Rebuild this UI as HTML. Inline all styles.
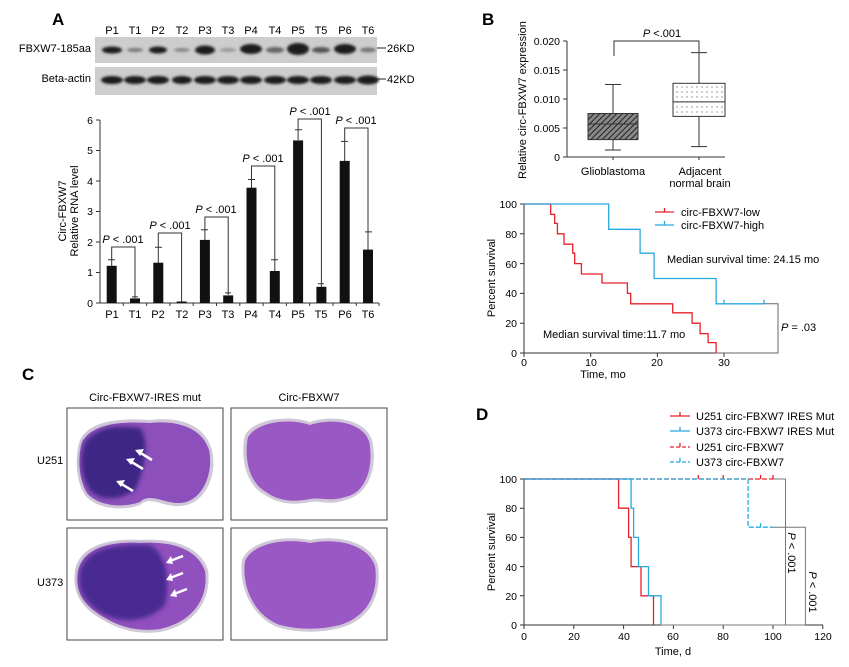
<!DOCTYPE html>
<html><head><meta charset="utf-8"><style>
html,body{margin:0;padding:0;background:#fff}
svg{display:block;font-family:"Liberation Sans",Arial,sans-serif}
</style></head><body>
<svg width="849" height="667" viewBox="0 0 849 667" xmlns="http://www.w3.org/2000/svg">
<defs>
<pattern id="hatch" width="4" height="4" patternUnits="userSpaceOnUse" patternTransform="rotate(45)"><rect width="4" height="4" fill="#888"/><line x1="0" y1="0" x2="0" y2="4" stroke="#222" stroke-width="2"/></pattern>
<pattern id="dots" width="5" height="5" patternUnits="userSpaceOnUse"><rect width="5" height="5" fill="#fff"/><circle cx="2" cy="2" r="0.6" fill="#555"/></pattern>
<filter id="blur" x="-20%" y="-50%" width="140%" height="200%"><feGaussianBlur stdDeviation="1.2"/></filter>
<filter id="blur2"><feGaussianBlur stdDeviation="2"/></filter>
</defs>

<!-- Panel A -->
<text x="52" y="25" font-size="17" font-weight="bold">A</text>
<g font-size="11" text-anchor="middle">
<text x="112" y="34">P1</text><text x="135" y="34">T1</text><text x="158" y="34">P2</text><text x="182" y="34">T2</text><text x="205" y="34">P3</text><text x="228" y="34">T3</text><text x="251" y="34">P4</text><text x="275" y="34">T4</text><text x="298" y="34">P5</text><text x="321" y="34">T5</text><text x="345" y="34">P6</text><text x="368" y="34">T6</text>
</g>
<rect x="95" y="37" width="282" height="26" fill="#cdcdcd"/>
<rect x="95" y="67" width="282" height="28" fill="#cdcdcd"/>
<g fill="#1a1a1a" filter="url(#blur)">
<ellipse cx="112" cy="50" rx="10" ry="3.5"/><ellipse cx="135" cy="50" rx="8" ry="2" fill="#777"/><ellipse cx="158" cy="50" rx="9" ry="3.5"/><ellipse cx="182" cy="50" rx="8" ry="2" fill="#888"/><ellipse cx="205" cy="50" rx="10" ry="4.5"/><ellipse cx="228" cy="50" rx="8" ry="2" fill="#999"/><ellipse cx="251" cy="49" rx="11" ry="5"/><ellipse cx="275" cy="50" rx="9" ry="3" fill="#666"/><ellipse cx="298" cy="49" rx="11" ry="6"/><ellipse cx="321" cy="50" rx="9" ry="3" fill="#555"/><ellipse cx="345" cy="49" rx="11" ry="5"/><ellipse cx="368" cy="50" rx="8" ry="2.5" fill="#777"/>
<ellipse cx="112" cy="80" rx="11" ry="4"/><ellipse cx="135" cy="80" rx="11" ry="4"/><ellipse cx="158" cy="80" rx="11" ry="4"/><ellipse cx="182" cy="80" rx="10" ry="4"/><ellipse cx="205" cy="80" rx="11" ry="4"/><ellipse cx="228" cy="80" rx="11" ry="4"/><ellipse cx="251" cy="80" rx="11" ry="4"/><ellipse cx="275" cy="80" rx="11" ry="4"/><ellipse cx="298" cy="80" rx="11" ry="4"/><ellipse cx="321" cy="80" rx="11" ry="4"/><ellipse cx="345" cy="80" rx="11" ry="4"/><ellipse cx="368" cy="80" rx="11" ry="4.5"/>
</g>
<text x="91" y="52" font-size="11" text-anchor="end">FBXW7-185aa</text>
<text x="91" y="82" font-size="11" text-anchor="end">Beta-actin</text>
<line x1="377" y1="48" x2="386" y2="48" stroke="#222"/><line x1="377" y1="79" x2="386" y2="79" stroke="#222"/>
<text x="387" y="52" font-size="11">26KD</text><text x="387" y="83" font-size="11">42KD</text>

<g stroke="#333" fill="none">
<line x1="100" y1="120" x2="100" y2="303"/><line x1="100" y1="303" x2="379" y2="303"/>
<path d="M96,303H100M96,272.5H100M96,242H100M96,211.5H100M96,181H100M96,150.5H100M96,120H100"/>
<path d="M123.3,303v3M146.6,303v3M169.9,303v3M193.2,303v3M216.5,303v3M239.8,303v3M263.1,303v3M286.4,303v3M309.7,303v3M333,303v3M356.3,303v3M379,303v3"/>
</g>
<g font-size="10.5" text-anchor="end"><text x="93" y="307">0</text><text x="93" y="276">1</text><text x="93" y="246">2</text><text x="93" y="215">3</text><text x="93" y="185">4</text><text x="93" y="154">5</text><text x="93" y="124">6</text></g>
<g font-size="11" text-anchor="middle">
<text x="112" y="318">P1</text><text x="135" y="318">T1</text><text x="158" y="318">P2</text><text x="182" y="318">T2</text><text x="205" y="318">P3</text><text x="228" y="318">T3</text><text x="251" y="318">P4</text><text x="275" y="318">T4</text><text x="298" y="318">P5</text><text x="321" y="318">T5</text><text x="345" y="318">P6</text><text x="368" y="318">T6</text>
</g>
<text transform="translate(66,211) rotate(-90)" font-size="11" text-anchor="middle">Circ-FBXW7</text>
<text transform="translate(78,211) rotate(-90)" font-size="11" text-anchor="middle">Relative RNA level</text>
<g fill="#111">
<rect x="106.7" y="265.8" width="10" height="37.2"/><rect x="130" y="298.4" width="10" height="4.6"/><rect x="153.3" y="262.7" width="10" height="40.3"/><rect x="176.6" y="301.5" width="10" height="1.5"/><rect x="199.9" y="239.9" width="10" height="63.1"/><rect x="223.2" y="295.4" width="10" height="7.6"/><rect x="246.5" y="187.7" width="10" height="115.3"/><rect x="269.8" y="271" width="10" height="32"/><rect x="293.1" y="140.4" width="10" height="162.6"/><rect x="316.4" y="286.8" width="10" height="16.2"/><rect x="339.7" y="160.9" width="10" height="142.1"/><rect x="363" y="249.6" width="10" height="53.4"/>
</g>
<g stroke="#333" fill="none">
<path d="M111.7,266V259.7M108,259.7h7 M135,298V296.9M132,296.9h6 M158.3,263V247.2M155,247.2h7 M204.9,240V229.8M201,229.8h7 M228.2,295V292.9M225,292.9h6 M251.5,188V179.5M248,179.5h7 M274.8,271V259.7M271,259.7h7 M298.1,140V129.8M295,129.8h7 M321.4,287V283.8M318,283.8h6 M344.7,161V141.4M341,141.4h7 M368,250V231.9M365,231.9h7"/>
<path d="M111.7,259.7V247H135V296.9"/>
<path d="M158.3,247.2V233H181.6V301.5"/>
<path d="M204.9,229.8V217H228.2V292.9"/>
<path d="M251.5,179.5V166H274.8V259.7"/>
<path d="M298.1,129.8V119H321.4V283.8"/>
<path d="M344.7,141.4V128H368V231.9"/>
</g>
<g font-size="11" text-anchor="middle">
<text x="123" y="243"><tspan font-style="italic">P</tspan> &lt; .001</text>
<text x="170" y="229"><tspan font-style="italic">P</tspan> &lt; .001</text>
<text x="216" y="213"><tspan font-style="italic">P</tspan> &lt; .001</text>
<text x="263" y="162"><tspan font-style="italic">P</tspan> &lt; .001</text>
<text x="310" y="115"><tspan font-style="italic">P</tspan> &lt; .001</text>
<text x="356" y="124"><tspan font-style="italic">P</tspan> &lt; .001</text>
</g>

<!-- Panel B box -->
<text x="482" y="25" font-size="17" font-weight="bold">B</text>
<g stroke="#333" fill="none">
<line x1="567" y1="41" x2="567" y2="157"/><line x1="567" y1="157" x2="725" y2="157"/>
<path d="M563,157H567M563,128H567M563,99H567M563,70H567M563,41H567M613,157v3M699,157v3"/>
</g>
<g font-size="10.5" text-anchor="end"><text x="560" y="161">0</text><text x="560" y="132">0.005</text><text x="560" y="103">0.010</text><text x="560" y="74">0.015</text><text x="560" y="45">0.020</text></g>
<text transform="translate(526,100) rotate(-90)" font-size="11" text-anchor="middle">Relative circ-FBXW7 expression</text>
<rect x="588" y="113.5" width="50" height="26.1" fill="url(#hatch)" stroke="#333"/>
<g stroke="#333" fill="none">
<line x1="588" y1="124" x2="638" y2="124"/><path d="M613,113.5V84.5M605,84.5h16M613,139.6V150M605,150h16"/>
<rect x="673" y="83.3" width="52" height="33.1" fill="url(#dots)"/><line x1="673" y1="101.9" x2="725" y2="101.9"/>
<path d="M699,83.3V52.6M691,52.6h16M699,116.4V146.6M691,146.6h16"/>
<path d="M614,56V41H699V52"/>
</g>
<text x="662" y="37" font-size="11" text-anchor="middle"><tspan font-style="italic">P</tspan> &lt;.001</text>
<text x="613" y="175" font-size="11" text-anchor="middle">Glioblastoma</text>
<text x="700" y="175" font-size="11" text-anchor="middle">Adjacent</text>
<text x="700" y="187" font-size="11" text-anchor="middle">normal brain</text>

<!-- Panel B survival -->
<g stroke="#333" fill="none">
<line x1="524" y1="204" x2="524" y2="353"/><line x1="524" y1="353" x2="778" y2="353"/>
<path d="M520,353H524M520,323.2H524M520,293.4H524M520,263.6H524M520,233.8H524M520,204H524M524,353v4M590.7,353v4M657.4,353v4M724,353v4"/>
<path d="M716,353H778V303.8H764" stroke="#666"/>
</g>
<g font-size="10.5" text-anchor="end"><text x="517" y="357">0</text><text x="517" y="327">20</text><text x="517" y="297">40</text><text x="517" y="268">60</text><text x="517" y="238">80</text><text x="517" y="208">100</text></g>
<g font-size="10.5" text-anchor="middle"><text x="524" y="366">0</text><text x="591" y="366">10</text><text x="657" y="366">20</text><text x="724" y="366">30</text></g>
<text x="603" y="378" font-size="11" text-anchor="middle">Time, mo</text>
<text transform="translate(495,278) rotate(-90)" font-size="11" text-anchor="middle">Percent survival</text>
<path d="M524,204H550.7V214.4H554.7V223.4H557.4V233.8H564V244.2H572.7V253.2H574.7V263.6H581.4V274H602V283H627.4V293.4H630.7V303.8H672.7V312.8H692.1V323.2H700.1V333.6H708.1V342.6H716.1V353" stroke="#e8202a" stroke-width="1.3" fill="none"/>
<path d="M524,204H608.7V229.3H640.1V253.2H654.1V278.5H716.1V303.8H764.1M724,303.8v-4M764,303.8v-4" stroke="#29a8e0" stroke-width="1.3" fill="none"/>
<path d="M655,212H674M664.5,212v-4" stroke="#e8202a" stroke-width="1.3"/>
<path d="M655,225H674M664.5,225v-4" stroke="#29a8e0" stroke-width="1.3"/>
<text x="681" y="216" font-size="11">circ-FBXW7-low</text>
<text x="681" y="229" font-size="11">circ-FBXW7-high</text>
<text x="667" y="263" font-size="11">Median survival time: 24.15 mo</text>
<text x="543" y="338" font-size="11">Median survival time:11.7 mo</text>
<text x="781" y="331" font-size="11"><tspan font-style="italic">P</tspan> = .03</text>

<!-- Panel C -->
<text x="22" y="380" font-size="17" font-weight="bold">C</text>
<text x="145" y="401" font-size="11" text-anchor="middle">Circ-FBXW7-IRES mut</text>
<text x="309" y="401" font-size="11" text-anchor="middle">Circ-FBXW7</text>
<text x="37" y="464" font-size="11">U251</text>
<text x="37" y="586" font-size="11">U373</text>
<g fill="none" stroke="#444" stroke-width="1"><rect x="67" y="408" width="156" height="112"/><rect x="231" y="408" width="156" height="112"/><rect x="67" y="528" width="156" height="112"/><rect x="231" y="528" width="156" height="112"/></g>
<path d="M80,440 C90,420 120,418 150,420 C180,416 205,425 212,450 C218,475 205,505 180,506 C165,508 150,495 140,505 C120,512 95,508 85,495 C75,480 75,455 80,440Z" fill="#d0c8d8"/>
<path d="M82,442 C92,424 120,421 150,423 C178,420 202,428 209,450 C214,474 202,502 180,503 C165,504 150,492 140,502 C120,509 97,505 87,493 C78,478 78,456 82,442Z" fill="#8d4fbb"/>
<path d="M84,445 C92,428 115,424 140,428 C150,440 145,470 135,490 C120,500 100,502 90,490 C80,475 80,458 84,445Z" fill="#3e2585" filter="url(#blur2)"/>
<path d="M245,435 C255,418 290,415 310,422 C330,415 365,418 372,440 C378,465 370,495 345,500 C330,506 320,500 310,502 C295,505 280,505 265,495 C245,485 240,455 245,435Z" fill="#d0c8d8"/>
<path d="M248,437 C258,421 290,418 310,425 C330,418 362,421 369,441 C374,465 367,493 345,497 C330,502 320,497 310,499 C295,502 280,502 266,492 C248,482 244,456 248,437Z" fill="#9a58c4"/>
<path d="M75,570 C80,545 110,538 140,540 C170,538 200,545 208,570 C212,600 195,625 160,632 C130,636 110,625 95,615 C80,605 72,590 75,570Z" fill="#d0c8d8"/>
<path d="M78,571 C83,548 110,541 140,543 C170,541 197,548 205,571 C209,598 193,622 160,629 C130,633 110,622 96,612 C82,602 75,590 78,571Z" fill="#9050bd"/>
<path d="M80,572 C85,550 110,543 150,545 C168,555 170,585 165,605 C150,622 120,625 100,612 C85,602 77,590 80,572Z" fill="#4a2a92" filter="url(#blur2)"/>
<path d="M242,560 C250,540 285,535 310,540 C335,535 370,540 378,565 C382,595 370,620 340,628 C320,633 300,633 280,628 C255,620 238,590 242,560Z" fill="#d0c8d8"/>
<path d="M245,561 C253,543 285,538 310,543 C335,538 367,543 375,566 C379,594 367,617 340,625 C320,630 300,630 280,625 C257,617 241,590 245,561Z" fill="#9a58c4"/>
<g stroke="#fff" stroke-width="2.5" fill="#fff">
<path d="M152,460 L139,452"/><path d="M143,469 L130,461"/><path d="M133,491 L120,483"/>
<path d="M183,556 L170,561"/><path d="M183,573 L170,578"/><path d="M187,589 L174,594"/>
</g>
<g fill="#fff">
<path d="M135,450 l9,-1 -4,7z"/><path d="M126,459 l9,-1 -4,7z"/><path d="M116,481 l9,-1 -4,7z"/>
<path d="M166,563 l5,-7 2,8z"/><path d="M166,580 l5,-7 2,8z"/><path d="M170,596 l5,-7 2,8z"/>
</g>

<!-- Panel D -->
<text x="476" y="420" font-size="17" font-weight="bold">D</text>
<path d="M670,416H690M680,416v-4" stroke="#e8202a" stroke-width="1.3"/>
<path d="M670,431H690M680,431v-4" stroke="#29a8e0" stroke-width="1.3"/>
<path d="M670,447H690M680,447v-4" stroke="#e8202a" stroke-width="1.3" stroke-dasharray="4,2"/>
<path d="M670,462H690M680,462v-4" stroke="#29a8e0" stroke-width="1.3" stroke-dasharray="4,2"/>
<g font-size="11"><text x="696" y="420">U251 circ-FBXW7 IRES Mut</text><text x="696" y="435">U373 circ-FBXW7 IRES Mut</text><text x="696" y="451">U251 circ-FBXW7</text><text x="696" y="466">U373 circ-FBXW7</text></g>
<g stroke="#333" fill="none">
<line x1="524" y1="479" x2="524" y2="625"/><line x1="524" y1="625" x2="823" y2="625"/>
<path d="M520,625H524M520,595.8H524M520,566.6H524M520,537.4H524M520,508.2H524M520,479H524M524,625v4M573.8,625v4M623.6,625v4M673.4,625v4M723.2,625v4M773,625v4M822.8,625v4"/>
<path d="M661,625H805.4M773,479H785.5V625M773,527.2H805.4V625" stroke="#777"/>
</g>
<g font-size="10.5" text-anchor="end"><text x="517" y="629">0</text><text x="517" y="600">20</text><text x="517" y="571">40</text><text x="517" y="541">60</text><text x="517" y="512">80</text><text x="517" y="483">100</text></g>
<g font-size="10.5" text-anchor="middle"><text x="524" y="640">0</text><text x="574" y="640">20</text><text x="624" y="640">40</text><text x="673" y="640">60</text><text x="723" y="640">80</text><text x="773" y="640">100</text><text x="823" y="640">120</text></g>
<text x="673" y="655" font-size="11" text-anchor="middle">Time, d</text>
<text transform="translate(495,552) rotate(-90)" font-size="11" text-anchor="middle">Percent survival</text>
<path d="M524,479H773M698.3,479v-4M723.2,479v-4M760.6,479v-4M773,479v-4" stroke="#e8202a" stroke-width="1.3" fill="none" stroke-dasharray="5,2"/>
<path d="M524,479H748.1V527.2H773M760.6,527.2v-4" stroke="#29a8e0" stroke-width="1.3" fill="none" stroke-dasharray="5,2"/>
<path d="M524,479H618.6V508.2H628.6V537.4H631.1V566.6H641V595.8H653.5V625" stroke="#e8202a" stroke-width="1.3" fill="none"/>
<path d="M524,479H631.1V508.2H633.6V537.4H638.5V566.6H648.5V595.8H661V625" stroke="#29a8e0" stroke-width="1.3" fill="none"/>
<text transform="translate(788,553) rotate(90)" font-size="11" text-anchor="middle"><tspan font-style="italic">P</tspan> &lt; .001</text>
<text transform="translate(809,592) rotate(90)" font-size="11" text-anchor="middle"><tspan font-style="italic">P</tspan> &lt; .001</text>
</svg>
</body></html>
